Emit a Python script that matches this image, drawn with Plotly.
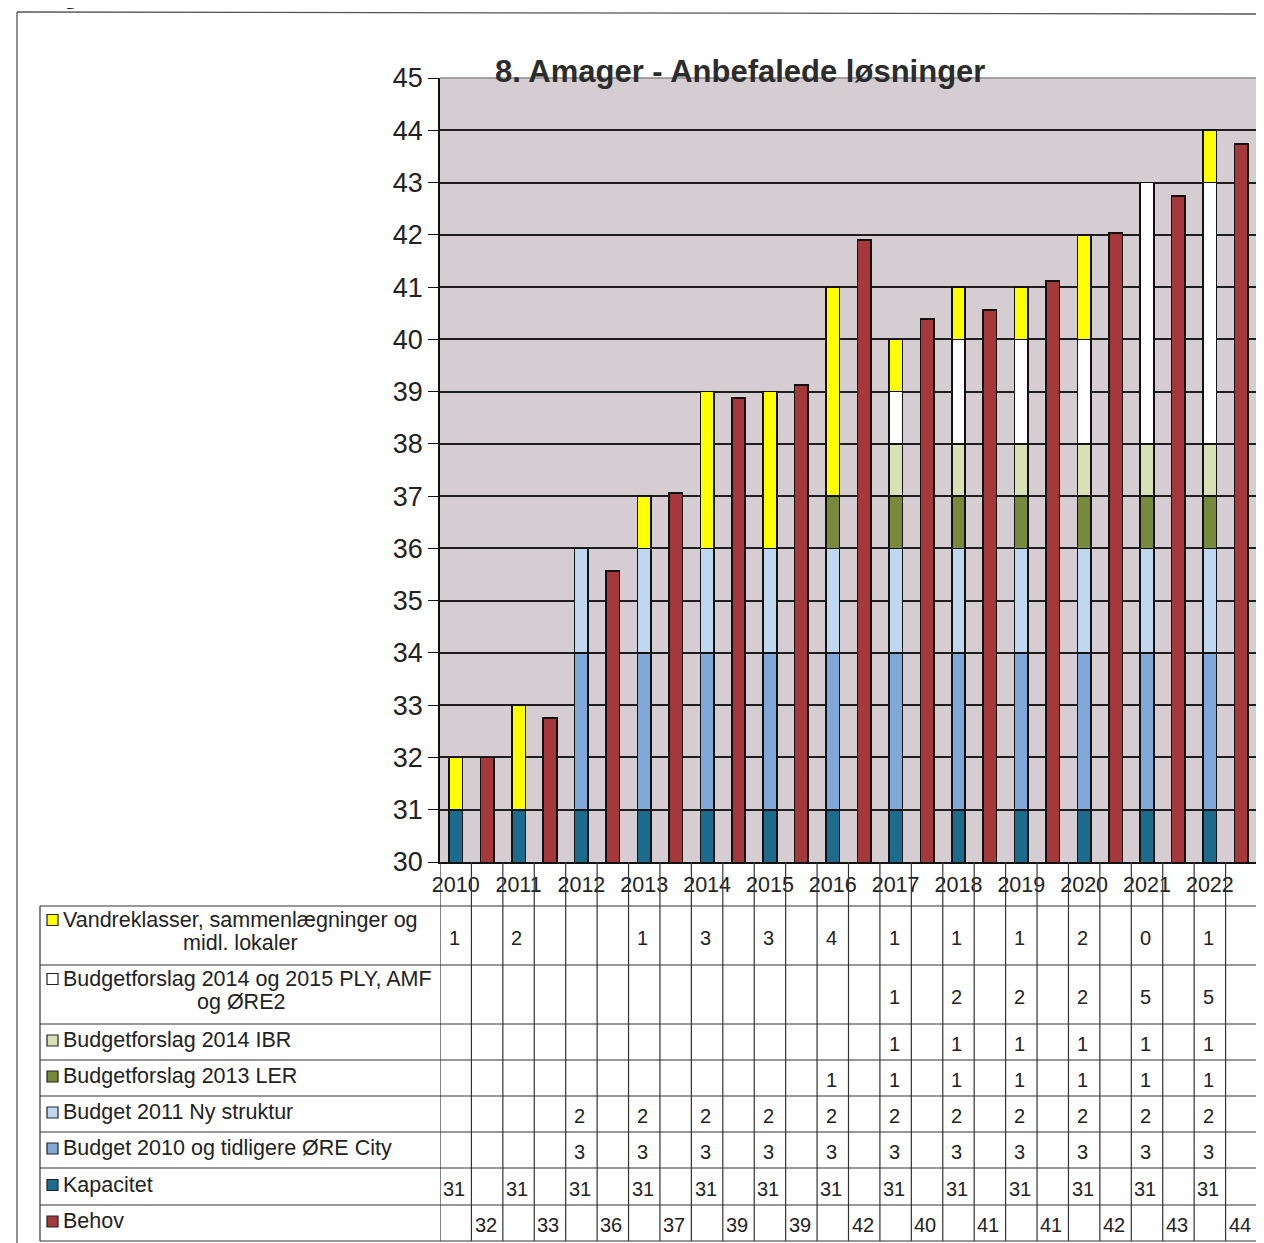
import plotly.graph_objects as go

# --- data ---
years = [2010, 2011, 2012, 2013, 2014, 2015, 2016, 2017, 2018, 2019, 2020, 2021, 2022]

kapacitet = [31] * 13
budget_2010 = [None, None, 3, 3, 3, 3, 3, 3, 3, 3, 3, 3, 3]
budget_2011 = [None, None, 2, 2, 2, 2, 2, 2, 2, 2, 2, 2, 2]
forslag_2013_ler = [None, None, None, None, None, None, 1, 1, 1, 1, 1, 1, 1]
forslag_2014_ibr = [None, None, None, None, None, None, None, 1, 1, 1, 1, 1, 1]
forslag_2014_2015 = [None, None, None, None, None, None, None, 1, 2, 2, 2, 5, 5]
vandreklasser = [1, 2, None, 1, 3, 3, 4, 1, 1, 1, 2, 0, 1]
behov = [32.0, 32.75, 35.57, 37.06, 38.88, 39.13, 41.9, 40.39, 40.56, 41.12, 42.03, 42.74, 43.74]

# page is 1264x1243, body margin of 8px -> figure a bit smaller
OFF = 8
W, H = 1256, 1235
FONT = "Liberation Sans, Arial, sans-serif"

def px(x):
    return (x - OFF) / W

def py(y):
    return 1 - (y - OFF) / H

# stacked series, bottom -> top
series = [
    ("Kapacitet", kapacitet, "#1d6b8d"),
    ("Budget 2010 og tidligere ØRE City", budget_2010, "#80a8d8"),
    ("Budget 2011 Ny struktur", budget_2011, "#bfd8ef"),
    ("Budgetforslag 2013 LER", forslag_2013_ler, "#778a3b"),
    ("Budgetforslag 2014 IBR", forslag_2014_ibr, "#d8e1b6"),
    ("Budgetforslag 2014 og 2015 PLY, AMF og ØRE2", forslag_2014_2015, "#ffffff"),
    ("Vandreklasser, sammenlægninger og midl. lokaler", vandreklasser, "#ffff00"),
]
behov_color = "#a5383b"

stack_x = [2 * i for i in range(len(years))]
behov_x = [2 * i + 1 for i in range(len(years))]

fig = go.Figure()
for name, vals, col in series:
    fig.add_trace(go.Bar(x=stack_x, y=vals, name=name, width=0.43,
                         marker=dict(color=col, line=dict(color="#111", width=1.6)),
                         showlegend=False))
fig.add_trace(go.Bar(x=behov_x, y=behov, name="Behov", width=0.43,
                     marker=dict(color=behov_color, line=dict(color="#111", width=1.6)),
                     showlegend=False))

# plot area in page pixels
X0, X1, Y0, Y1 = 440, 1257, 78, 862

fig.update_layout(
    width=W, height=H, barmode="stack",
    margin=dict(l=0, r=0, t=0, b=0, autoexpand=False),
    paper_bgcolor="white", plot_bgcolor="#d6cdd2",
    font=dict(family=FONT, color="#222"),
    xaxis=dict(domain=[px(X0), px(X1)], range=[-0.5, 25.5],
               tickvals=stack_x, ticktext=[str(y) for y in years],
               tickfont=dict(size=21.5, color="#222"), ticks="", ticklabelstandoff=2,
               showgrid=False, showline=True, linecolor="#111", linewidth=1.6,
               zeroline=False, fixedrange=True, automargin=False),
    yaxis=dict(domain=[py(Y1), py(Y0)], range=[30, 45], dtick=1,
               tickfont=dict(size=27, color="#222"),
               ticks="outside", ticklen=10, tickcolor="#111",
               showgrid=True, gridcolor="#1e1e1e", gridwidth=1.6,
               showline=True, linecolor="#111", linewidth=1.6,
               zeroline=False, fixedrange=True, automargin=False),
)

shapes = []
# plot top border
shapes.append(dict(type="line", xref="paper", yref="paper", x0=px(X0), x1=px(X1),
                   y0=py(Y0), y1=py(Y0), line=dict(color="#8a8a8a", width=1.6)))

# outer frame of the page
shapes.append(dict(type="line", xref="paper", yref="paper", x0=px(17), x1=1,
                   y0=py(12), y1=py(14), line=dict(color="#555", width=1.3)))
shapes.append(dict(type="line", xref="paper", yref="paper", x0=px(17), x1=px(17),
                   y0=py(12), y1=0, line=dict(color="#555", width=1.3)))

# data table grid
row_lines = [906, 965, 1024, 1060, 1096, 1132, 1168, 1205, 1241]
T_LEFT = 40
for k in range(27):
    shapes.append(dict(type="line", xref="x", yref="paper", x0=k - 0.5, x1=k - 0.5,
                       y0=py(Y1), y1=py(1241), line=dict(color="#333", width=1.2)))
shapes.append(dict(type="line", xref="x", yref="paper", x0=25.5, x1=25.5,
                   y0=py(Y0), y1=py(Y1), line=dict(color="#666", width=1.2)))
for yy in row_lines:
    shapes.append(dict(type="line", xref="paper", yref="paper", x0=px(T_LEFT), x1=px(X1),
                       y0=py(yy), y1=py(yy), line=dict(color="#333", width=1.2)))
shapes.append(dict(type="line", xref="paper", yref="paper", x0=px(T_LEFT), x1=px(T_LEFT),
                   y0=py(906), y1=py(1241), line=dict(color="#333", width=1.2)))

annotations = []
annotations.append(dict(text="<b>8. Amager - Anbefalede løsninger</b>", x=px(740), y=py(72),
                        xref="paper", yref="paper", xanchor="center", yanchor="middle",
                        showarrow=False, font=dict(size=31, color="#2c2c2c", family=FONT)))
# cut-off page heading at the very top
annotations.append(dict(text="<b>Amager</b>", x=px(18), y=py(11), xref="paper", yref="paper",
                        xanchor="left", yanchor="bottom", showarrow=False,
                        font=dict(size=22, color="#222", family="Liberation Serif, serif")))

# table rows: top -> bottom
table_rows = list(reversed(series)) + [("Behov", behov, behov_color)]
label_lines = {
    "Vandreklasser, sammenlægninger og midl. lokaler": ["Vandreklasser, sammenlægninger og", "midl. lokaler"],
    "Budgetforslag 2014 og 2015 PLY, AMF og ØRE2": ["Budgetforslag 2014 og 2015 PLY, AMF", "og ØRE2"],
}
for r, (name, vals, col) in enumerate(table_rows):
    top, bot = row_lines[r], row_lines[r + 1]
    mid = (top + bot) / 2
    lines = label_lines.get(name, [name])
    if len(lines) == 2:
        ys = [mid - 16, mid + 7]
    else:
        ys = [mid - 2]
    # legend key
    shapes.append(dict(type="rect", xref="paper", yref="paper", x0=px(47), x1=px(58),
                       y0=py(ys[0] - 5), y1=py(ys[0] + 6), fillcolor=col,
                       line=dict(color="#222", width=1.2)))
    annotations.append(dict(text=lines[0], x=px(61), y=py(ys[0]), xref="paper", yref="paper",
                            xanchor="left", yanchor="middle", showarrow=False,
                            font=dict(size=21.5, color="#222")))
    if len(lines) == 2:
        annotations.append(dict(text=lines[1], x=px(241), y=py(ys[1]), xref="paper", yref="paper",
                                xanchor="center", yanchor="middle", showarrow=False,
                                font=dict(size=21.5, color="#222")))
    xs = behov_x if name == "Behov" else stack_x
    for xi, v in zip(xs, vals):
        if v is None:
            continue
        annotations.append(dict(text=str(round(v)), x=xi - 0.05, y=py(mid + 2), xref="x", yref="paper",
                                xanchor="center", yanchor="middle", showarrow=False,
                                font=dict(size=20, color="#222")))

fig.update_layout(shapes=shapes, annotations=annotations)
fig.write_html("out.html")
